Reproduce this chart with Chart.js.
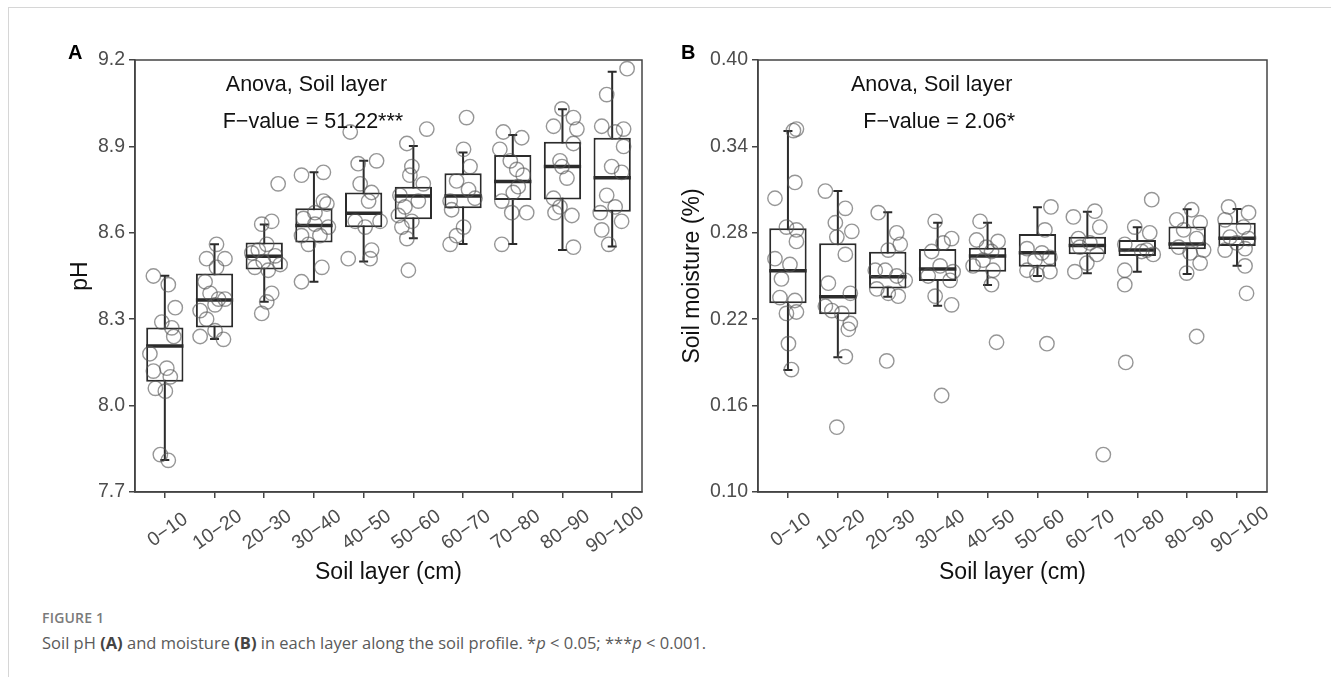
<!DOCTYPE html>
<html>
<head>
<meta charset="utf-8">
<script src="https://cdn.jsdelivr.net/npm/chart.js@4.4.1/dist/chart.umd.min.js"></script>
<style>
  body { margin: 0; background: #fff; width: 1331px; height: 677px; overflow: hidden; position: relative; }
  .frame { position: absolute; left: 8px; top: 7px; width: 1330px; height: 700px; border-top: 1px solid #d6d6d6; border-left: 1px solid #d6d6d6; }
  canvas { position: absolute; top: 0; }
  #phChart { left: 0; }
  #moistChart { left: 640px; }
  .tag { position: absolute; font: bold 20px "Liberation Sans", Arial, sans-serif; color: #000; }
  .figno { position: absolute; left: 42px; top: 608px; font: 600 14px "Open Sans", sans-serif; color: #7a7a7a; letter-spacing: 0.2px; }
  .caption { position: absolute; left: 42px; top: 631px; font: 16.5px "Open Sans", sans-serif; color: #5a5a5a; }
  .caption b { color: #444; }
</style>
</head>
<body>
<div class="frame"></div>
<canvas id="phChart" width="665" height="600"></canvas>
<canvas id="moistChart" width="660" height="600"></canvas>
<div class="tag" style="left:68px; top:41px;">A</div>
<div class="tag" style="left:681px; top:41px;">B</div>
<div class="figno">FIGURE 1</div>
<div class="caption">Soil pH <b>(A)</b> and moisture <b>(B)</b> in each layer along the soil profile. *<i>p</i> &lt; 0.05; ***<i>p</i> &lt; 0.001.</div>

<script>
const layers = ['0−10', '10−20', '20−30', '30−40', '40−50', '50−60', '60−70', '70−80', '80−90', '90−100'];

// panel A: soil pH
const phTicks = [7.7, 8.0, 8.3, 8.6, 8.9, 9.2];
const phLow = [7.811, 8.231, 8.361, 8.430, 8.500, 8.581, 8.561, 8.561, 8.540, 8.552];
const phQ1 = [8.083, 8.271, 8.473, 8.566, 8.619, 8.647, 8.685, 8.714, 8.716, 8.673];
const phMedian = [8.207, 8.367, 8.519, 8.625, 8.668, 8.728, 8.728, 8.778, 8.830, 8.791];
const phQ3 = [8.271, 8.459, 8.566, 8.685, 8.740, 8.760, 8.807, 8.870, 8.916, 8.930];
const phHigh = [8.451, 8.560, 8.629, 8.810, 8.850, 8.901, 8.879, 8.940, 9.029, 9.159];
const phPoints = [
  [8.45, 8.42, 8.34, 8.29, 8.27, 8.24, 8.18, 8.12, 8.13, 8.10, 8.06, 8.05, 7.83, 7.81],
  [8.56, 8.51, 8.51, 8.48, 8.43, 8.39, 8.37, 8.37, 8.35, 8.33, 8.30, 8.26, 8.24, 8.23],
  [8.77, 8.63, 8.64, 8.54, 8.56, 8.53, 8.52, 8.50, 8.48, 8.47, 8.49, 8.39, 8.36, 8.32],
  [8.80, 8.81, 8.71, 8.70, 8.67, 8.65, 8.63, 8.62, 8.59, 8.59, 8.56, 8.48, 8.43],
  [8.95, 8.84, 8.85, 8.77, 8.74, 8.71, 8.64, 8.64, 8.62, 8.54, 8.51, 8.51],
  [8.96, 8.91, 8.83, 8.80, 8.77, 8.73, 8.71, 8.69, 8.66, 8.64, 8.62, 8.58, 8.47],
  [9.00, 8.89, 8.83, 8.78, 8.75, 8.71, 8.72, 8.68, 8.62, 8.59, 8.56],
  [8.95, 8.93, 8.89, 8.85, 8.82, 8.80, 8.76, 8.74, 8.71, 8.67, 8.67, 8.56],
  [9.03, 9.00, 8.97, 8.96, 8.91, 8.85, 8.83, 8.79, 8.72, 8.69, 8.67, 8.66, 8.55],
  [9.17, 9.08, 8.97, 8.95, 8.96, 8.90, 8.83, 8.81, 8.73, 8.69, 8.67, 8.64, 8.61, 8.56]
];
const phJitter = [
  [-0.23, 0.07, 0.21, -0.06, 0.14, 0.18, -0.30, -0.23, 0.04, 0.11, -0.19, 0.01, -0.09, 0.07],
  [0.04, -0.16, 0.21, 0.04, -0.19, -0.09, 0.08, 0.21, 0.01, -0.29, -0.16, 0.01, -0.29, 0.18],
  [0.28, -0.05, 0.15, -0.12, 0.05, -0.25, 0.22, -0.02, -0.19, 0.08, 0.32, 0.15, 0.05, -0.05],
  [-0.25, 0.19, 0.19, 0.26, 0.02, -0.21, 0.02, 0.29, -0.25, 0.12, -0.11, 0.16, -0.25],
  [-0.27, -0.11, 0.26, -0.07, 0.16, 0.10, -0.17, 0.33, 0.03, 0.16, -0.31, 0.13],
  [0.27, -0.13, -0.03, -0.07, 0.20, -0.27, 0.10, -0.17, -0.30, -0.03, -0.23, -0.13, -0.10],
  [0.07, 0.01, 0.14, -0.13, 0.11, -0.26, 0.24, -0.23, 0.01, -0.13, -0.26],
  [-0.19, 0.18, -0.26, -0.05, 0.08, 0.21, 0.11, 0.01, -0.22, -0.02, 0.28, -0.22],
  [-0.01, 0.22, -0.18, 0.29, 0.22, -0.05, -0.01, 0.09, -0.18, -0.05, -0.15, 0.19, 0.22],
  [0.30, -0.11, -0.21, 0.06, 0.23, 0.23, -0.01, 0.19, -0.11, 0.06, -0.24, 0.19, -0.21, -0.07]
];

// panel B: soil moisture
const moistTicks = [0.10, 0.16, 0.22, 0.28, 0.34, 0.40];
const moistLow = [0.1847, 0.1935, 0.2356, 0.2294, 0.2438, 0.2500, 0.2519, 0.2530, 0.2514, 0.2572];
const moistQ1 = [0.2310, 0.2234, 0.2414, 0.2465, 0.2530, 0.2565, 0.2651, 0.2639, 0.2685, 0.2708];
const moistMedian = [0.2537, 0.2356, 0.2495, 0.2549, 0.2639, 0.2662, 0.2711, 0.2681, 0.2722, 0.2762];
const moistQ3 = [0.2831, 0.2727, 0.2669, 0.2688, 0.2697, 0.2792, 0.2773, 0.2750, 0.2843, 0.2870];
const moistHigh = [0.3507, 0.3090, 0.2942, 0.2870, 0.2870, 0.2977, 0.2947, 0.2838, 0.2963, 0.2965];
const moistPoints = [
  [0.351, 0.352, 0.315, 0.304, 0.282, 0.284, 0.274, 0.262, 0.258, 0.248, 0.235, 0.233, 0.224, 0.225, 0.203, 0.185],
  [0.309, 0.297, 0.287, 0.281, 0.277, 0.265, 0.245, 0.238, 0.229, 0.226, 0.224, 0.217, 0.213, 0.194, 0.145],
  [0.294, 0.280, 0.272, 0.268, 0.254, 0.254, 0.250, 0.247, 0.241, 0.238, 0.236, 0.191],
  [0.288, 0.276, 0.273, 0.267, 0.257, 0.253, 0.250, 0.247, 0.236, 0.230, 0.167],
  [0.288, 0.275, 0.274, 0.270, 0.267, 0.261, 0.257, 0.254, 0.244, 0.204],
  [0.298, 0.282, 0.269, 0.266, 0.263, 0.261, 0.254, 0.253, 0.251, 0.203],
  [0.291, 0.295, 0.284, 0.276, 0.273, 0.270, 0.265, 0.259, 0.253, 0.126],
  [0.303, 0.284, 0.280, 0.272, 0.268, 0.267, 0.265, 0.254, 0.244, 0.190],
  [0.296, 0.289, 0.287, 0.282, 0.276, 0.270, 0.268, 0.266, 0.259, 0.252, 0.208],
  [0.298, 0.294, 0.289, 0.284, 0.277, 0.276, 0.273, 0.268, 0.269, 0.257, 0.238]
];
const moistJitter = [
  [0.11, 0.17, 0.14, -0.26, 0.17, -0.03, 0.17, -0.26, 0.04, -0.13, -0.16, 0.14, -0.03, 0.17, 0.01, 0.07],
  [-0.25, 0.15, -0.05, 0.28, -0.02, 0.15, -0.19, 0.25, -0.25, -0.12, 0.08, 0.25, 0.21, 0.15, -0.02],
  [-0.19, 0.18, 0.25, 0.01, -0.25, -0.05, 0.18, 0.35, -0.22, 0.01, 0.21, -0.02],
  [-0.05, 0.28, 0.11, -0.12, 0.05, 0.31, -0.19, 0.25, -0.05, 0.28, 0.08],
  [-0.15, -0.22, 0.21, -0.02, 0.08, -0.09, -0.29, 0.11, 0.08, 0.18],
  [0.27, 0.15, -0.21, 0.09, 0.25, -0.05, -0.21, 0.25, -0.01, 0.19],
  [-0.28, 0.15, 0.25, -0.18, 0.05, -0.15, 0.19, -0.01, -0.25, 0.32],
  [0.29, -0.05, 0.25, -0.25, 0.19, 0.09, 0.32, -0.25, -0.25, -0.23],
  [0.09, -0.21, 0.26, -0.07, 0.19, -0.17, 0.33, 0.06, 0.26, -0.01, 0.19],
  [-0.17, 0.23, -0.24, 0.13, -0.14, 0.23, -0.01, -0.24, 0.16, 0.16, 0.19]
];

const FONT = '"Liberation Sans", Arial, sans-serif';
const INK = '#2b2b2b';

// whiskers, medians, frame, rotated tick labels and the anova note
const boxParts = {
  id: 'boxParts',
  beforeDatasetsDraw(chart) {
    const c = chart.options.boxData, xs = chart.scales.x, ys = chart.scales.y, ctx = chart.ctx;
    ctx.save();
    ctx.strokeStyle = INK;
    ctx.lineWidth = 2;
    const cap = xs.getPixelForValue(1.09) - xs.getPixelForValue(1);
    c.low.forEach((lo, i) => {
      const x = xs.getPixelForValue(i + 1);
      const yl = ys.getPixelForValue(lo), yh = ys.getPixelForValue(c.high[i]);
      ctx.beginPath();
      ctx.moveTo(x, yl); ctx.lineTo(x, yh);
      ctx.moveTo(x - cap, yl); ctx.lineTo(x + cap, yl);
      ctx.moveTo(x - cap, yh); ctx.lineTo(x + cap, yh);
      ctx.stroke();
    });
    ctx.restore();
  },
  afterDatasetDraw(chart, args) {
    if (args.index !== 0) return;
    const c = chart.options.boxData, ys = chart.scales.y, ctx = chart.ctx;
    ctx.save();
    ctx.strokeStyle = INK;
    ctx.lineWidth = 3.5;
    args.meta.data.forEach((bar, i) => {
      const y = ys.getPixelForValue(c.median[i]);
      ctx.beginPath();
      ctx.moveTo(bar.x - bar.width / 2, y);
      ctx.lineTo(bar.x + bar.width / 2, y);
      ctx.stroke();
    });
    ctx.restore();
  },
  afterDraw(chart) {
    const c = chart.options.boxData, xs = chart.scales.x, ys = chart.scales.y, ctx = chart.ctx;
    const a = chart.chartArea;
    ctx.save();
    ctx.strokeStyle = '#444';
    ctx.lineWidth = 1.5;
    ctx.strokeRect(a.left, a.top, a.right - a.left, a.bottom - a.top);

    ctx.fillStyle = '#4d4d4d';
    ctx.font = '19.5px ' + FONT;
    ctx.textAlign = 'center';
    ctx.textBaseline = 'middle';
    layers.forEach((lab, i) => {
      ctx.save();
      ctx.translate(xs.getPixelForValue(i + 1) + 3, a.bottom + 38);
      ctx.rotate(-35 * Math.PI / 180);
      ctx.fillText(lab, 0, 0);
      ctx.restore();
    });

    ctx.fillStyle = '#111';
    ctx.font = '21.5px ' + FONT;
    c.notes.forEach(n => {
      ctx.fillText(n.text, xs.getPixelForValue(n.x), ys.getPixelForValue(n.y));
    });
    ctx.restore();
  }
};

function boxPanel(id, c) {
  const pts = [];
  c.points.forEach((vals, i) => vals.forEach((v, j) => pts.push({ x: i + 1 + c.jitter[i][j], y: v })));
  return new Chart(document.getElementById(id), {
    type: 'bar',
    data: {
      datasets: [
        {
          type: 'bar',
          data: layers.map((l, i) => ({ x: i + 1, y: [c.q1[i], c.q3[i]] })),
          backgroundColor: '#fff',
          borderColor: INK,
          borderWidth: 2,
          borderSkipped: false,
          barPercentage: 0.75,
          categoryPercentage: 1,
          order: 2
        },
        {
          type: 'scatter',
          data: pts,
          pointRadius: 7.2,
          pointBorderWidth: 1.4,
          pointBorderColor: 'rgba(85,85,85,0.62)',
          pointBackgroundColor: 'rgba(0,0,0,0)',
          order: 1
        }
      ]
    },
    options: {
      responsive: false,
      animation: false,
      boxData: c,
      layout: { padding: { left: c.padLeft, top: 60, right: c.padRight, bottom: 0 } },
      plugins: { legend: { display: false }, tooltip: { enabled: false } },
      scales: {
        x: {
          type: 'linear',
          min: 0.4,
          max: 10.6,
          offset: false,
          afterBuildTicks: s => { s.ticks = layers.map((l, i) => ({ value: i + 1 })); },
          afterFit: s => { s.height = 108; },
          ticks: { display: false },
          grid: { drawOnChartArea: false, drawTicks: true, tickLength: 6, color: '#444', lineWidth: 1.5, offset: false },
          border: { display: true, color: '#444', width: 1.5 },
          title: { display: true, text: 'Soil layer (cm)', color: '#111', font: { family: FONT, size: 23 }, padding: { top: 0, bottom: 14 } }
        },
        y: {
          min: c.ticks[0],
          max: c.ticks[c.ticks.length - 1],
          afterBuildTicks: s => { s.ticks = c.ticks.map(v => ({ value: v })); },
          afterFit: s => { s.width = c.axisWidth; },
          ticks: { callback: v => v.toFixed(c.digits), color: '#4d4d4d', font: { family: FONT, size: 19.5 }, padding: 4 },
          grid: { drawOnChartArea: false, drawTicks: true, tickLength: 6, color: '#444', lineWidth: 1.5 },
          border: { display: true, color: '#444', width: 1.5 },
          title: { display: true, text: c.yTitle, color: '#111', font: { family: FONT, size: 23 }, padding: { top: c.titlePad, bottom: 0 } }
        }
      }
    },
    plugins: [boxParts]
  });
}

boxPanel('phChart', {
  low: phLow, q1: phQ1, median: phMedian, q3: phQ3, high: phHigh,
  points: phPoints, jitter: phJitter, ticks: phTicks, digits: 1,
  yTitle: 'pH', padLeft: 60, axisWidth: 75, padRight: 23, titlePad: 7,
  notes: [
    { text: 'Anova, Soil layer', x: 3.85, y: 9.113 },
    { text: 'F−value = 51.22***', x: 3.98, y: 8.985 }
  ]
});

boxPanel('moistChart', {
  low: moistLow, q1: moistQ1, median: moistMedian, q3: moistQ3, high: moistHigh,
  points: moistPoints, jitter: moistJitter, ticks: moistTicks, digits: 2,
  yTitle: 'Soil moisture (%)', padLeft: 30, axisWidth: 88, padRight: 33, titlePad: 9,
  notes: [
    { text: 'Anova, Soil layer', x: 3.88, y: 0.3826 },
    { text: 'F−value = 2.06*', x: 4.03, y: 0.357 }
  ]
});
</script>
</body>
</html>
